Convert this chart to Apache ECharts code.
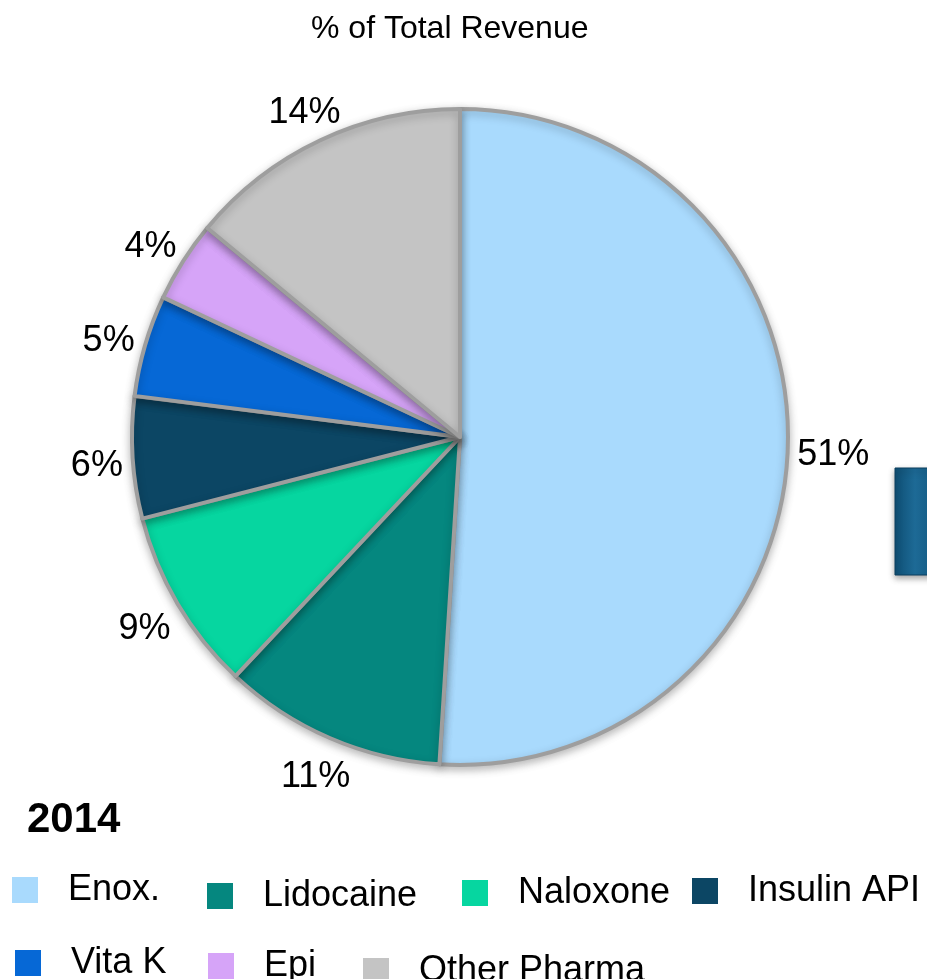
<!DOCTYPE html>
<html>
<head>
<meta charset="utf-8">
<script src="https://cdn.jsdelivr.net/npm/echarts@6/dist/echarts.min.js"></script>
<style>
  html, body { margin: 0; padding: 0; background: #fff; }
  #chartmain { width: 927px; height: 979px; }
</style>
</head>
<body>
<div id="chartmain"></div>
<script>
// data
var categories = ['Enox.', 'Lidocaine', 'Naloxone', 'Insulin API', 'Vita K', 'Epi', 'Other Pharma'];
var shares = [51, 11, 9, 6, 5, 4, 14];
var sliceColors = ['#A9DAFD', '#05877F', '#06D6A0', '#0C4664', '#0668D6', '#D6A4F8', '#C4C4C4'];
var yearLabel = '2014';

// legend spots (icon left/top), one legend per item like the slide
var legendSpots = [[12, 872], [207, 878], [462, 875], [692, 873], [15, 945], [208, 948], [363, 953]];

var FONT = '"Liberation Sans", Arial, sans-serif';
var CX = 460, CY = 437, R = 328, LABEL_GAP = 9, GLYPH_H = 28;

var chart = echarts.init(document.getElementById('chartmain'), null, { renderer: 'canvas' });

var pieData = categories.map(function (name, i) {
    return { name: name, value: shares[i], itemStyle: { color: sliceColors[i] } };
});

// mid angle of each slice, clockwise from 12 o'clock
var total = shares.reduce(function (a, b) { return a + b; }, 0);
var midAngles = [];
var acc = 0;
shares.forEach(function (v) {
    midAngles.push((acc + v / 2) / total * 2 * Math.PI);
    acc += v;
});

var legends = categories.map(function (name, i) {
    return {
        data: [name],
        left: legendSpots[i][0],
        top: legendSpots[i][1],
        padding: 0,
        itemWidth: 26,
        itemHeight: 26,
        icon: 'rect',
        selectedMode: false,
        itemStyle: { borderWidth: 0, shadowBlur: 0 },
        textStyle: { fontFamily: FONT, fontSize: 36, color: '#000', lineHeight: 26, padding: [0, 0, 0, 25] }
    };
});

chart.setOption({
    animation: false,
    backgroundColor: '#fff',
    title: [{
        text: '% of Total Revenue',
        left: 306,
        top: 8,
        textStyle: { fontFamily: FONT, fontSize: 32, fontWeight: 'normal', color: '#000' }
    }, {
        text: yearLabel,
        left: 22,
        top: 794,
        textStyle: { fontFamily: FONT, fontSize: 42, fontWeight: 'bold', color: '#000' }
    }],
    legend: legends,
    graphic: [{
        type: 'rect',
        shape: { x: 895, y: 468, width: 40, height: 107 },
        style: {
            fill: { type: 'linear', x: 0, y: 0, x2: 1, y2: 0, colorStops: [
                { offset: 0, color: '#0E4E73' }, { offset: 0.5, color: '#1D6A96' }, { offset: 1, color: '#145A82' }] },
            stroke: '#0B3F5E', lineWidth: 1,
            shadowBlur: 6, shadowColor: 'rgba(0,0,0,0.35)', shadowOffsetY: 3
        }
    }],
    series: [{
        type: 'pie',
        center: [CX, CY],
        radius: ['0%', R],
        startAngle: 90,
        clockwise: true,
        silent: true,
        data: pieData,
        itemStyle: {
            borderColor: '#9E9E9E',
            borderWidth: 4,
            shadowBlur: 8,
            shadowColor: 'rgba(0,0,0,0.25)',
            shadowOffsetY: 3
        },
        label: {
            show: true,
            position: 'outside',
            formatter: '{c}%',
            fontFamily: FONT,
            fontSize: 36,
            color: '#000'
        },
        labelLine: { show: false, length: 16, length2: 4 },
        // place each label like an "outside end" label: glyph box just off the rim
        labelLayout: function (params) {
            var a = midAngles[params.dataIndex];
            var dx = Math.sin(a), dy = -Math.cos(a);
            var w = params.labelRect.width;
            var half = Math.abs(dx) * w / 2 + Math.abs(dy) * GLYPH_H / 2;
            var d = R + LABEL_GAP + half;
            return { x: CX + dx * d, y: CY + dy * d + 6, align: 'center', verticalAlign: 'middle' };
        },
        emphasis: { disabled: true }
    }]
});
</script>
</body>
</html>
